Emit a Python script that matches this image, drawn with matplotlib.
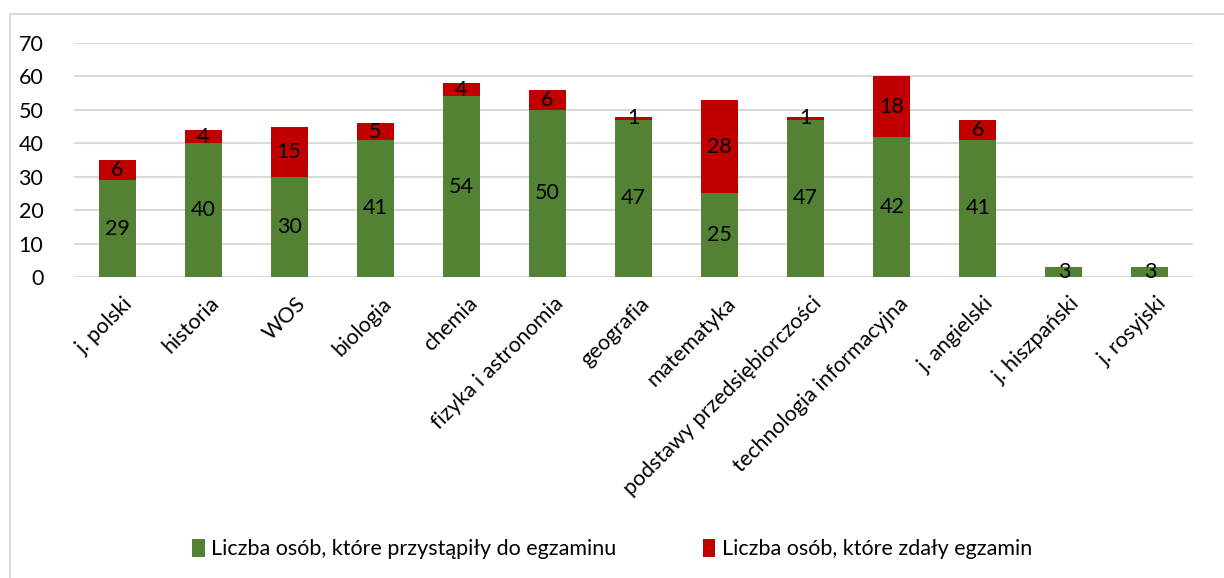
import numpy as np
import matplotlib.pyplot as plt
from matplotlib.patches import Rectangle
from matplotlib.transforms import ScaledTranslation

przedmioty = ["j. polski", "historia", "WOS", "biologia", "chemia",
              "fizyka i astronomia", "geografia", "matematyka",
              "podstawy przedsiębiorczości", "technologia informacyjna",
              "j. angielski", "j. hiszpański", "j. rosyjski"]
przystapily = [29, 40, 30, 41, 54, 50, 47, 25, 47, 42, 41, 3, 3]
zdaly = [6, 4, 15, 5, 4, 6, 1, 28, 1, 18, 6, 0, 0]

zielony = "#548235"
czerwony = "#C00000"
fs = 15.5

plt.rcParams['font.family'] = ['Lato', 'DejaVu Sans']

fig = plt.figure(figsize=(12.24, 5.78), dpi=100)
ax = fig.add_axes([74 / 1224, 1 - 277 / 578, 1119 / 1224, 234 / 578])

x = np.arange(len(przedmioty))
b1 = ax.bar(x, przystapily, width=0.43, color=zielony,
            label="Liczba osób, które przystąpiły do egzaminu", zorder=3)
b2 = ax.bar(x, zdaly, width=0.43, bottom=przystapily, color=czerwony,
            label="Liczba osób, które zdały egzamin", zorder=3)

# etykiety wartości
for i in range(len(x)):
    ax.text(x[i], przystapily[i] / 2, str(przystapily[i]), ha="center",
            va="center", fontsize=fs, zorder=4)
    if zdaly[i] > 0:
        ax.text(x[i], przystapily[i] + zdaly[i] / 2, str(zdaly[i]),
                ha="center", va="center", fontsize=fs, zorder=4)

ax.set_xlim(-0.5, len(x) - 0.5)
ax.set_ylim(0, 70)
ax.set_yticks(range(0, 71, 10))
ax.yaxis.grid(True, color="#D9D9D9", linewidth=1.5, zorder=0)
ax.set_xticks(x)
ax.set_xticklabels(przedmioty, rotation=45, ha="right", rotation_mode="anchor",
                   fontsize=fs)
ax.tick_params(axis="y", labelsize=fs, length=0, pad=22)
ax.tick_params(axis="x", length=0, pad=6)
przesun = ScaledTranslation(0.06, -0.08, fig.dpi_scale_trans)
for lab in ax.get_xticklabels():
    lab.set_transform(lab.get_transform() + przesun)
for s in ax.spines.values():
    s.set_visible(False)

fig.legend(handles=[b1, b2], loc="center", bbox_to_anchor=(0.5, 1 - 549 / 578),
           ncol=2, frameon=False, fontsize=fs, handlelength=0.6,
           handleheight=0.9, handletextpad=0.3, columnspacing=4.0)

# ramka wykresu
fig.patches.append(Rectangle((10 / 1224, -0.1), 1.2, 1 - 14 / 578 + 0.1,
                             transform=fig.transFigure, fill=False,
                             edgecolor="#D9D9D9", linewidth=1.5))

fig.savefig("out.png", dpi=100)
